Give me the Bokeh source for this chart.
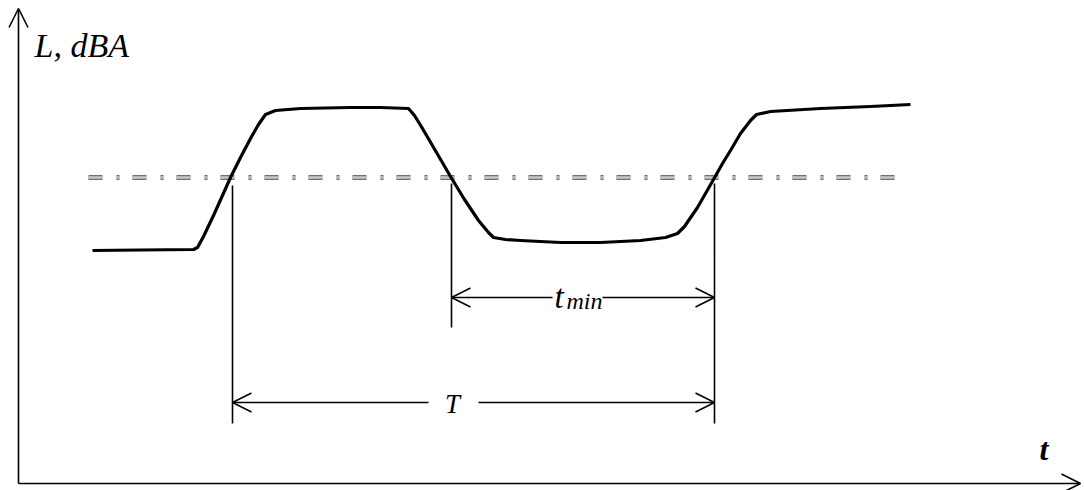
from bokeh.plotting import figure
from bokeh.models import Range1d, Arrow, OpenHead
from bokeh.core.properties import value
from bokeh.embed import file_html
from bokeh.resources import INLINE

# ---- data (schematic) ----
t_curve = [92, 140, 193, 197, 203, 213, 222, 230, 240, 250, 258, 265, 275, 300, 350,
           380, 408, 414, 422, 436, 450, 464, 478, 488, 493, 505, 520, 560, 600, 640,
           665, 677, 684, 697, 705, 713, 722, 730, 740, 750, 756, 770, 820, 870, 910]
L_curve = [240, 240.5, 241, 243, 254, 275, 295, 313, 333, 352, 366, 376, 380, 382, 383,
           383, 382, 375, 362, 338, 314, 291, 270, 258, 253, 251, 250, 248, 248, 250,
           253, 257, 264, 283, 297, 311, 327, 340, 357, 370, 376, 379, 382, 384, 386]

threshold_t = [88, 897]
threshold_L = [313, 313]

marker_t = [232, 451, 714]
marker_top = [305, 307, 307]
marker_bottom = [67, 163, 67]

tmin_level = 193
tmin_gap = [552, 602]
T_level = 88
T_gap = [428, 478]

axis_origin = [18, 7]
axis_tip = [1080, 482]

labels_y = "L, dBA"
label_t = "t"
label_T = "T"
label_tmin = ["t", "min"]

# ---- figure ----
p = figure(width=1084, height=490, x_range=Range1d(0, 1084), y_range=Range1d(0, 490),
           output_backend="svg", toolbar_location=None, min_border=0,
           x_axis_location=None, y_axis_location=None)
p.grid.visible = False
p.outline_line_color = None
p.background_fill_color = "white"
p.border_fill_color = "white"

# axes with arrows
p.add_layout(Arrow(start=None, end=OpenHead(size=19, line_width=1.6, line_color="black"),
                   x_start=axis_origin[0], y_start=axis_origin[1],
                   x_end=axis_tip[0], y_end=axis_origin[1],
                   line_width=1.6, line_color="black"))
p.add_layout(Arrow(start=None, end=OpenHead(size=19, line_width=1.6, line_color="black"),
                   x_start=axis_origin[0], y_start=axis_origin[1],
                   x_end=axis_origin[0], y_end=axis_tip[1],
                   line_width=1.6, line_color="black"))

# threshold dash-dot line (outlined grey dashes)
p.line(threshold_t, threshold_L, line_color="#707070", line_width=5,
       line_dash="14 14 3 13", line_cap="butt")
p.line(threshold_t, threshold_L, line_color="#c8c8c8", line_width=2.6,
       line_dash="14 14 3 13", line_cap="butt")

# level curve
p.line(t_curve, L_curve, line_color="black", line_width=3.2, line_join="round")

# vertical marker lines
p.segment(x0=marker_t, y0=marker_bottom, x1=marker_t, y1=marker_top,
          line_color="black", line_width=1.6)

# t_min dimension arrows
for xs, xe in ((tmin_gap[0], marker_t[1]), (tmin_gap[1], marker_t[2])):
    p.add_layout(Arrow(start=None, end=OpenHead(size=19, line_width=1.5),
                       x_start=xs, y_start=tmin_level, x_end=xe, y_end=tmin_level,
                       line_width=1.5))
# T dimension arrows
for xs, xe in ((T_gap[0], marker_t[0]), (T_gap[1], marker_t[2])):
    p.add_layout(Arrow(start=None, end=OpenHead(size=19, line_width=1.5),
                       x_start=xs, y_start=T_level, x_end=xe, y_end=T_level,
                       line_width=1.5))

font = value("Liberation Serif")
# labels
p.text(x=[34], y=[445], text=[labels_y], text_font=font, text_font_style="italic",
       text_font_size="34px", text_color="black", text_align="left", text_baseline="alphabetic")
p.text(x=[1039], y=[42], text=[label_t], text_font=font, text_font_style="bold italic",
       text_font_size="32px", text_color="black", text_align="left", text_baseline="alphabetic")
p.text(x=[452], y=[87], text=[label_T], text_font=font,
       text_font_style="italic", text_font_size="27px", text_color="black",
       text_align="center", text_baseline="alphabetic")
p.text(x=[554], y=[194], text=[label_tmin[0]], text_font=font, text_font_style="italic",
       text_font_size="33px", text_color="black", text_align="left", text_baseline="alphabetic")
p.text(x=[566], y=[190], text=[label_tmin[1]], text_font=font, text_font_style="italic",
       text_font_size="24px", text_color="black", text_align="left", text_baseline="alphabetic")

open("out.html", "w").write(file_html(p, INLINE))
